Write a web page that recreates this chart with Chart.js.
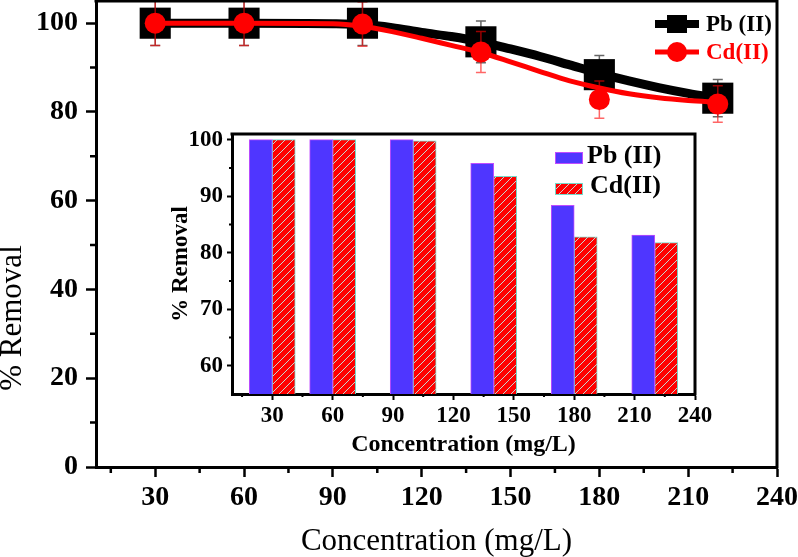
<!DOCTYPE html>
<html><head><meta charset="utf-8">
<script src="https://cdn.jsdelivr.net/npm/chart.js@4/dist/chart.umd.min.js"></script>
<style>
html,body{margin:0;padding:0;background:#fff;}
#wrap{position:relative;width:798px;height:557px;overflow:hidden;}
#main{position:absolute;left:0;top:0;}
#inset{position:absolute;left:140px;top:125px;}
</style></head><body>
<div id="wrap">
<canvas id="main" width="798" height="557"></canvas>
<canvas id="inset" width="580" height="335"></canvas>
</div>
<script>
// ---- data ----
const seriesNames = ['Pb (II)', 'Cd(II)'];
const concentrations = [30, 60, 100, 140, 180, 220];
const pbRemoval = [100, 100, 100, 95.8, 88.4, 83.1];
const cdRemoval = [100, 100, 99.8, 93.5, 82.8, 81.8];
const pbError = [5, 5, 5, 4.7, 4.3, 4.2];
const cdError = [5, 5, 5, 4.6, 4.2, 4.1];
// fitted curves
const fitConcentrations = [30, 60, 90, 100, 110, 120, 130, 140, 150, 160, 170, 180, 190, 200, 210, 220];
const pbFit = [100, 100, 99.9, 99.7, 99.0, 97.9, 97.0, 95.8, 94.2, 92.5, 90.6, 88.7, 87.0, 85.5, 84.2, 83.1];
const cdFit = [100, 100, 99.9, 99.3, 98.1, 96.6, 95.0, 93.4, 91.3, 89.1, 87.0, 85.4, 84.1, 83.2, 82.6, 82.2];
// tick labels
const xTickLabels = [30, 60, 90, 120, 150, 180, 210, 240];
const xMinorTicks = [15, 45, 75, 105, 135, 165, 195, 225];
const mainYTickLabels = [0, 20, 40, 60, 80, 100];
const mainYMinorTicks = [10, 30, 50, 70, 90];
const insetYTickLabels = [60, 70, 80, 90, 100];
const insetYMinorTicks = [65, 75, 85, 95];
const xTitle = 'Concentration (mg/L)';
const yTitle = '% Removal';

// ---- styles ----
const SERIF = '"Liberation Serif", "Times New Roman", serif';
const BLUE = '#4f36ff';
const RED = '#ff0000';

function noPad(s) { s.paddingTop = 0; s.paddingBottom = 0; s.paddingLeft = 0; s.paddingRight = 0; }

function drawMinor(chart, axisId, values, len, width) {
  const ctx = chart.ctx, s = chart.scales[axisId], a = chart.chartArea;
  ctx.save(); ctx.strokeStyle = '#000'; ctx.lineWidth = width;
  ctx.beginPath();
  values.forEach(v => {
    const p = s.getPixelForValue(v);
    if (axisId === 'x') { ctx.moveTo(p, a.bottom); ctx.lineTo(p, a.bottom + len); }
    else { ctx.moveTo(a.left, p); ctx.lineTo(a.left - len, p); }
  });
  ctx.stroke(); ctx.restore();
}
function drawFrame(chart, w) {
  const ctx = chart.ctx, a = chart.chartArea;
  ctx.save(); ctx.strokeStyle = '#000'; ctx.lineWidth = w; ctx.lineCap = 'square';
  ctx.beginPath();
  ctx.moveTo(a.left, a.top); ctx.lineTo(a.right, a.top); ctx.lineTo(a.right, a.bottom);
  ctx.stroke(); ctx.restore();
}

const mainDecor = {
  id: 'mainDecor',
  beforeDatasetDraw(chart, args) {
    const ds = chart.data.datasets[args.index];
    if (!ds.errors) return;
    const ctx = chart.ctx, xs = chart.scales.x, ys = chart.scales.y;
    ctx.save(); ctx.strokeStyle = ds.errorColor; ctx.lineWidth = 1.5;
    ctx.beginPath();
    ds.data.forEach((pt, i) => {
      const px = xs.getPixelForValue(pt.x);
      const top = ys.getPixelForValue(pt.y + ds.errors[i]);
      const bot = ys.getPixelForValue(pt.y - ds.errors[i]);
      ctx.moveTo(px, top); ctx.lineTo(px, bot);
      ctx.moveTo(px - 5, top); ctx.lineTo(px + 5, top);
      ctx.moveTo(px - 5, bot); ctx.lineTo(px + 5, bot);
    });
    ctx.stroke(); ctx.restore();
  },
  afterDraw(chart) {
    const ctx = chart.ctx;
    drawFrame(chart, 3);
    drawMinor(chart, 'x', xMinorTicks, 6, 2.5);
    drawMinor(chart, 'y', mainYMinorTicks, 6, 2.5);
    // y title
    ctx.save();
    ctx.translate(13, 318); ctx.rotate(-Math.PI / 2);
    ctx.font = '31px ' + SERIF; ctx.fillStyle = '#000';
    ctx.textAlign = 'center'; ctx.textBaseline = 'middle';
    ctx.fillText(yTitle, 0, 0);
    ctx.restore();
    // legend
    ctx.save();
    ctx.lineCap = 'butt';
    ctx.strokeStyle = '#000'; ctx.lineWidth = 8;
    ctx.beginPath(); ctx.moveTo(655, 24); ctx.lineTo(699, 24); ctx.stroke();
    ctx.fillStyle = '#000'; ctx.fillRect(667, 15, 20, 18);
    ctx.strokeStyle = RED; ctx.lineWidth = 5;
    ctx.beginPath(); ctx.moveTo(655, 52); ctx.lineTo(699, 52); ctx.stroke();
    ctx.fillStyle = RED; ctx.beginPath(); ctx.arc(677, 52, 10, 0, Math.PI * 2); ctx.fill();
    ctx.font = 'bold 23px ' + SERIF; ctx.textBaseline = 'middle'; ctx.textAlign = 'left';
    ctx.fillStyle = '#000'; ctx.fillText(seriesNames[0], 706, 25);
    ctx.fillStyle = RED; ctx.fillText(seriesNames[1], 706, 53);
    ctx.restore();
  }
};

const tickFontMain = {family: SERIF, size: 28, weight: 'bold'};

new Chart(document.getElementById('main'), {
  type: 'line',
  data: {
    datasets: [
      { label: seriesNames[1], data: concentrations.map((c, i) => ({x: c, y: cdRemoval[i]})),
        showLine: false, pointStyle: 'circle', pointRadius: 10.5, pointBackgroundColor: RED,
        pointBorderColor: RED, pointBorderWidth: 0, errors: cdError, errorColor: 'rgba(255,0,0,0.6)',
        order: 1, clip: false },
      { label: seriesNames[1] + ' fit', data: fitConcentrations.map((c, i) => ({x: c, y: cdFit[i]})),
        borderColor: RED, borderWidth: 5, pointRadius: 0, tension: 0.4,
        cubicInterpolationMode: 'monotone', order: 2, clip: false },
      { label: seriesNames[0], data: concentrations.map((c, i) => ({x: c, y: pbRemoval[i]})),
        showLine: false, pointStyle: 'rect', pointRadius: 22, pointBackgroundColor: '#000',
        pointBorderColor: '#000', pointBorderWidth: 0, errors: pbError, errorColor: 'rgba(0,0,0,0.6)',
        order: 3, clip: false },
      { label: seriesNames[0] + ' fit', data: fitConcentrations.map((c, i) => ({x: c, y: pbFit[i]})),
        borderColor: '#000', borderWidth: 9, pointRadius: 0, tension: 0.4,
        cubicInterpolationMode: 'monotone', order: 4, clip: false }
    ]
  },
  options: {
    responsive: false, animation: false, events: [],
    layout: {autoPadding: false, padding: {top: 1, right: 21, left: 0, bottom: 0}},
    plugins: {legend: {display: false}, tooltip: {enabled: false}},
    scales: {
      x: {
        type: 'linear', min: 10, max: 240,
        afterBuildTicks: s => { s.ticks = xTickLabels.map(v => ({value: v})); },
        afterFit: s => { s.height = 90; noPad(s); },
        grid: {drawOnChartArea: false, drawTicks: true, tickLength: 10, tickWidth: 2.5, tickColor: '#000'},
        border: {display: true, width: 3, color: '#000'},
        ticks: {font: tickFontMain, color: '#000', padding: 4, maxRotation: 0, autoSkip: false},
        title: {display: true, text: xTitle, color: '#000',
                font: {family: SERIF, size: 31, lineHeight: 1}, padding: {top: 0, bottom: 0}}
      },
      y: {
        type: 'linear', min: 0, max: 105,
        afterBuildTicks: s => { s.ticks = mainYTickLabels.map(v => ({value: v})); },
        afterFit: s => { s.width = 96; noPad(s); },
        grid: {drawOnChartArea: false, drawTicks: true, tickLength: 10, tickWidth: 2.5, tickColor: '#000'},
        border: {display: true, width: 3, color: '#000'},
        ticks: {font: tickFontMain, color: '#000', padding: 8, autoSkip: false}
      }
    }
  },
  plugins: [mainDecor]
});

// ---- inset ----
const insetCanvas = document.getElementById('inset');
function makeHatch(ctx) {
  const c = document.createElement('canvas'); c.width = 8; c.height = 8;
  const g = c.getContext('2d');
  g.fillStyle = RED; g.fillRect(0, 0, 8, 8);
  g.strokeStyle = '#c4d6cf'; g.lineWidth = 1;
  g.beginPath();
  g.moveTo(-1, 9); g.lineTo(9, -1);
  g.moveTo(-1, 1); g.lineTo(1, -1);
  g.moveTo(7, 9); g.lineTo(9, 7);
  g.stroke();
  return ctx.createPattern(c, 'repeat');
}
const hatch = makeHatch(insetCanvas.getContext('2d'));
const BLUE_EDGE = '#c04cff';
const RED_EDGE = '#74d8c8';

const insetDecor = {
  id: 'insetDecor',
  afterDraw(chart) {
    const ctx = chart.ctx;
    drawFrame(chart, 3);
    drawMinor(chart, 'x', xMinorTicks, 3, 2);
    drawMinor(chart, 'y', insetYMinorTicks, 3, 2);
    ctx.save();
    ctx.lineWidth = 1;
    ctx.fillStyle = BLUE; ctx.fillRect(415, 27, 27, 11);
    ctx.strokeStyle = BLUE_EDGE; ctx.strokeRect(415.5, 27.5, 27, 11);
    ctx.fillStyle = hatch; ctx.fillRect(415, 58, 27, 11);
    ctx.strokeStyle = RED_EDGE; ctx.strokeRect(415.5, 58.5, 27, 11);
    ctx.font = 'bold 26px ' + SERIF; ctx.fillStyle = '#000';
    ctx.textBaseline = 'middle'; ctx.textAlign = 'left';
    ctx.fillText(seriesNames[0], 447, 31);
    ctx.fillText(seriesNames[1], 450, 61);
    ctx.restore();
  }
};

const tickFontInset = {family: SERIF, size: 23, weight: 'bold'};
new Chart(insetCanvas, {
  type: 'bar',
  data: {
    datasets: [
      { label: seriesNames[0], data: concentrations.map((c, i) => ({x: c, y: pbRemoval[i]})),
        backgroundColor: BLUE, borderColor: BLUE_EDGE, borderWidth: 1, barThickness: 23 },
      { label: seriesNames[1], data: concentrations.map((c, i) => ({x: c, y: cdRemoval[i]})),
        backgroundColor: hatch, borderColor: RED_EDGE, borderWidth: 1, barThickness: 23 }
    ]
  },
  options: {
    responsive: false, animation: false, events: [],
    layout: {autoPadding: false, padding: {top: 9, right: 25, left: 0, bottom: 0}},
    plugins: {legend: {display: false}, tooltip: {enabled: false}},
    scales: {
      x: {
        type: 'linear', min: 10, max: 240, offset: false,
        afterBuildTicks: s => { s.ticks = xTickLabels.map(v => ({value: v})); },
        afterFit: s => { s.height = 66; noPad(s); },
        grid: {offset: false, drawOnChartArea: false, drawTicks: true, tickLength: 6, tickWidth: 2, tickColor: '#000'},
        border: {display: true, width: 3, color: '#000'},
        ticks: {font: tickFontInset, color: '#000', padding: 2, maxRotation: 0, autoSkip: false},
        title: {display: true, text: xTitle, color: '#000',
                font: {family: SERIF, size: 24, weight: 'bold', lineHeight: 1}, padding: {top: 0, bottom: 3}}
      },
      y: {
        type: 'linear', min: 55, max: 101,
        afterBuildTicks: s => { s.ticks = insetYTickLabels.map(v => ({value: v})); },
        afterFit: s => { s.width = 92; noPad(s); },
        grid: {drawOnChartArea: false, drawTicks: true, tickLength: 5, tickWidth: 2, tickColor: '#000'},
        border: {display: true, width: 3, color: '#000'},
        ticks: {font: tickFontInset, color: '#000', padding: 4, autoSkip: false},
        title: {display: true, text: yTitle, color: '#000',
                font: {family: SERIF, size: 23, weight: 'bold', lineHeight: 1}, padding: {top: 30, bottom: 0}}
      }
    }
  },
  plugins: [insetDecor]
});
</script>
</body></html>
